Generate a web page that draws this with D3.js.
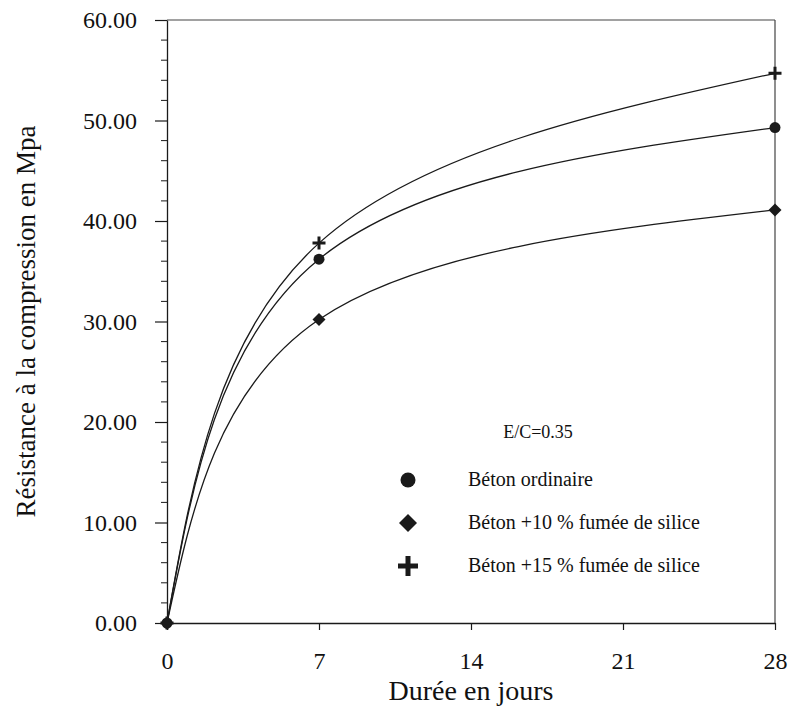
<!DOCTYPE html>
<html><head><meta charset="utf-8">
<script src="https://cdn.jsdelivr.net/npm/d3@7"></script>
<style>body{margin:0;background:#fff}svg{display:block}text{font-family:"Liberation Serif","Times New Roman",serif;fill:#111}</style>
</head><body><svg id="c" width="788" height="707"></svg>
<script>
const days = [0, 7, 28];
const betonOrdinaire = [0, 36.2, 49.3];
const beton10 = [0, 30.2, 41.1];
const beton15 = [0, 37.8, 54.7];
const yTicks = [0, 10, 20, 30, 40, 50, 60];
const xTicks = [0, 7, 14, 21, 28];
const seriesNames = ["Béton ordinaire", "Béton +10 % fumée de silice", "Béton +15 % fumée de silice"];
const seriesSymbols = ["circle", "diamond", "plus"];
const noteText = "E/C=0.35";
const xTitle = "Durée en jours";
const yTitle = "Résistance à la compression en Mpa";

const series = [betonOrdinaire, beton10, beton15];
const svg = d3.select("#c");
const L = 167, R = 775, T = 20, B = 623;
const x = d3.scaleLinear().domain([0, 28]).range([L, R]);
const y = d3.scaleLinear().domain([0, 60]).range([B, T]);
const ink = "#1a1a1a";

// frame
svg.append("line").attr("x1", L).attr("x2", R).attr("y1", T).attr("y2", T).attr("stroke", "#444").attr("stroke-width", 1.2);
svg.append("line").attr("x1", R).attr("x2", R).attr("y1", T).attr("y2", B).attr("stroke", "#444").attr("stroke-width", 1.2);

// y axis
const yAx = svg.append("g").attr("transform", `translate(${L},0)`)
  .call(d3.axisLeft(y).tickValues(yTicks).tickFormat(d3.format(".2f")).tickSize(12).tickSizeOuter(0).tickPadding(18));
yAx.selectAll("text").style("font-size", "24px").attr("fill", ink);
yAx.append("g").selectAll("line").data(d3.range(0, 60, 2).filter(v => v % 10 !== 0)).join("line")
  .attr("x1", -6).attr("x2", 0).attr("y1", d => y(d)).attr("y2", d => y(d)).attr("stroke", ink);
// x axis
const xAx = svg.append("g").attr("transform", `translate(0,${B})`)
  .call(d3.axisBottom(x).tickValues(xTicks).tickFormat(d3.format("d")).tickSize(7).tickSizeOuter(0).tickPadding(22));
xAx.selectAll("text").style("font-size", "24px").attr("fill", ink);
svg.selectAll(".domain").attr("stroke", ink).attr("stroke-width", 1.3);
svg.selectAll(".tick line").attr("stroke", ink).attr("stroke-width", 1.2);

// titles
svg.append("text").attr("x", (L + R) / 2).attr("y", 700).attr("text-anchor", "middle").style("font-size", "28px").text(xTitle);
svg.append("text").attr("transform", `translate(35,${(T + B) / 2}) rotate(-90)`).attr("text-anchor", "middle").style("font-size", "27px").text(yTitle);

// curves
const line = d3.line().x((d, i) => x(days[i])).y(d => y(d)).curve(d3.curveNatural);
series.forEach(s => {
  svg.append("path").datum(s).attr("d", line).attr("fill", "none").attr("stroke", ink).attr("stroke-width", 1.3);
});

function drawSymbol(g, kind, cx, cy) {
  if (kind === "circle") g.append("circle").attr("cx", cx).attr("cy", cy).attr("r", 5.5).attr("fill", ink);
  else if (kind === "diamond") g.append("path").attr("d", `M${cx},${cy-6.5}L${cx+6.5},${cy}L${cx},${cy+6.5}L${cx-6.5},${cy}Z`).attr("fill", ink);
  else g.append("path").attr("d", `M${cx-6.5},${cy}H${cx+6.5}M${cx},${cy-6.5}V${cy+6.5}`).attr("stroke", ink).attr("stroke-width", 3);
}
series.forEach((s, k) => {
  const g = svg.append("g");
  s.forEach((v, i) => drawSymbol(g, seriesSymbols[k], x(days[i]), y(v)));
});

// legend
svg.append("text").attr("x", 538).attr("y", 438).attr("text-anchor", "middle").style("font-size", "18px").text(noteText);
seriesNames.forEach((n, k) => {
  const cy = 480 + k * 43;
  const g = svg.append("g");
  if (seriesSymbols[k] === "circle") g.append("circle").attr("cx", 408).attr("cy", cy).attr("r", 7.5).attr("fill", ink);
  else if (seriesSymbols[k] === "diamond") g.append("path").attr("d", `M408,${cy-9}L417,${cy}L408,${cy+9}L399,${cy}Z`).attr("fill", ink);
  else g.append("path").attr("d", `M398,${cy}H418M408,${cy-10}V${cy+10}`).attr("stroke", ink).attr("stroke-width", 5);
  svg.append("text").attr("x", 468).attr("y", cy + 6).style("font-size", "20px").text(n);
});
</script></body></html>
